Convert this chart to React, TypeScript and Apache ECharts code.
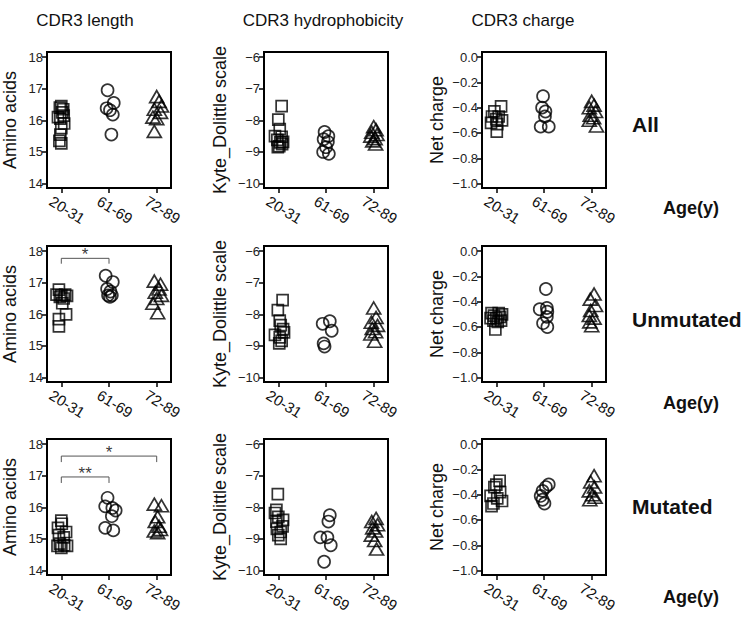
import React, { useEffect, useRef } from 'react';
import * as echarts from 'echarts';

const categories = ['20-31', '61-69', '72-89'];
const colTitles = ['CDR3 length', 'CDR3 hydrophobicity', 'CDR3 charge'];
const yNames = ['Amino acids', 'Kyte_Dolittle scale', 'Net charge'];
const rowLabels = ['All', 'Unmutated', 'Mutated'];
const ageLabel = 'Age(y)';
const yTicks = [
  [14, 15, 16, 17, 18],
  [-10, -9, -8, -7, -6],
  [-1, -0.8, -0.6, -0.4, -0.2, 0],
];
const yRanges = [
  [13.86, 18.16],
  [-10.14, -5.84],
  [-1.035, 0.04],
];

// points: [horizontal jitter from the group centre, value]
const lenAllA = [[0, 16.45], [-0.03, 16.4], [0.04, 16.35], [0.02, 16.25], [-0.07, 16.1], [0.05, 16.15], [-0.02, 16.05], [0.06, 15.9], [0, 15.75], [-0.02, 15.55], [-0.04, 15.35], [0, 15.27]];
const lenAllB = [[-0.03, 16.95], [0.1, 16.55], [-0.05, 16.38], [0.02, 16.32], [0.08, 16.18], [0.05, 15.55]];
const lenAllC = [[0, 16.75], [0.05, 16.6], [0.1, 16.45], [-0.05, 16.35], [0.08, 16.25], [-0.08, 16.1], [0, 16.05], [-0.05, 15.65]];
const hydAllA = [[0.07, -7.55], [0, -7.98], [0.03, -8.28], [-0.07, -8.5], [0.07, -8.52], [-0.02, -8.62], [0.1, -8.68], [0.02, -8.82], [-0.01, -8.85], [0.08, -8.75], [0.04, -8.7]];
const hydAllB = [[-0.03, -8.37], [0.05, -8.5], [-0.05, -8.6], [0.04, -8.68], [0, -8.85], [-0.06, -9.0], [0.06, -9.06]];
const hydAllC = [[0, -8.2], [0.05, -8.3], [-0.04, -8.38], [0.07, -8.45], [-0.06, -8.5], [0.03, -8.58], [-0.02, -8.65], [0.04, -8.75]];
const chgAllA = [[0.1, -0.39], [-0.04, -0.43], [-0.09, -0.47], [0.05, -0.47], [0, -0.49], [0.12, -0.5], [-0.11, -0.52], [0.02, -0.53], [0.01, -0.59]];
const chgAllB = [[-0.02, -0.31], [-0.04, -0.4], [0.03, -0.43], [0.02, -0.47], [-0.07, -0.55], [0.1, -0.55]];
const chgAllC = [[0, -0.35], [0.05, -0.38], [-0.05, -0.4], [0.08, -0.43], [-0.03, -0.46], [0.04, -0.48], [-0.05, -0.5], [0.1, -0.545]];

const lenUnA = [[-0.05, 16.78], [-0.1, 16.62], [0, 16.6], [0.08, 16.62], [0.12, 16.58], [-0.03, 16.55], [0.05, 16.5], [0.02, 16.35], [0.1, 16.0], [-0.05, 15.85], [-0.05, 15.62]];
const lenUnB = [[-0.07, 17.22], [0.08, 17.02], [-0.04, 16.8], [0.03, 16.72], [-0.02, 16.6], [0.06, 16.6], [0.02, 16.55]];
const lenUnC = [[-0.05, 17.05], [0.08, 16.95], [0.05, 16.8], [-0.03, 16.7], [0.1, 16.6], [0, 16.5], [-0.08, 16.35], [0.02, 16.05]];
const hydUnA = [[0.09, -7.55], [-0.01, -7.87], [0.03, -8.2], [0.05, -8.34], [0.1, -8.47], [0.12, -8.57], [-0.07, -8.65], [0.03, -8.73], [0.07, -8.84], [0.02, -8.92]];
const hydUnB = [[-0.07, -8.3], [0.08, -8.22], [0.12, -8.52], [-0.05, -8.92], [-0.03, -9.02]];
const hydUnC = [[0, -7.8], [0.05, -8.1], [-0.05, -8.25], [0.08, -8.35], [-0.03, -8.45], [0.04, -8.55], [-0.06, -8.62], [0.02, -8.85]];
const chgUnA = [[-0.1, -0.49], [0.05, -0.49], [0.12, -0.5], [-0.05, -0.51], [0.08, -0.52], [-0.12, -0.53], [0, -0.53], [0.1, -0.55], [-0.06, -0.55], [0.03, -0.56], [-0.02, -0.62]];
const chgUnB = [[0.04, -0.3], [-0.09, -0.46], [0.06, -0.45], [0.07, -0.48], [0.06, -0.52], [-0.02, -0.57], [0.07, -0.6]];
const chgUnC = [[0.05, -0.34], [-0.03, -0.38], [0.08, -0.43], [-0.02, -0.47], [-0.05, -0.51], [0.05, -0.53], [-0.04, -0.56], [0, -0.59]];

const lenMuA = [[0, 15.58], [0.01, 15.48], [-0.07, 15.35], [0.1, 15.22], [-0.05, 15.12], [0.05, 15.05], [-0.03, 14.85], [0.06, 14.8], [-0.08, 14.78], [0.12, 14.78], [0, 14.72]];
const lenMuB = [[-0.03, 16.3], [-0.08, 16.03], [0.07, 15.98], [0.14, 15.9], [0.06, 15.72], [-0.08, 15.35], [0.09, 15.27]];
const lenMuC = [[-0.05, 16.1], [0.1, 16.05], [0.02, 15.7], [-0.03, 15.55], [0.05, 15.4], [0.08, 15.3], [-0.05, 15.25], [0.02, 15.2]];
const hydMuA = [[-0.01, -7.58], [-0.04, -8.08], [-0.07, -8.18], [0, -8.3], [0.1, -8.4], [-0.04, -8.45], [0.09, -8.6], [-0.03, -8.68], [0.05, -8.78], [0, -8.88], [0.05, -9.0]];
const hydMuB = [[0.08, -8.25], [0.05, -8.45], [-0.12, -8.95], [0.03, -8.95], [0.1, -9.2], [-0.04, -9.72]];
const hydMuC = [[0.05, -8.35], [-0.04, -8.45], [0.08, -8.55], [-0.02, -8.65], [0.04, -8.75], [-0.05, -8.88], [0.02, -9.05], [0.06, -9.32]];
const chgMuA = [[0.07, -0.29], [0, -0.32], [-0.04, -0.34], [0.08, -0.38], [-0.12, -0.41], [0.02, -0.43], [0.12, -0.45], [-0.06, -0.47], [-0.1, -0.49]];
const chgMuB = [[0.1, -0.32], [0.04, -0.34], [-0.03, -0.37], [-0.07, -0.41], [-0.03, -0.44], [0.01, -0.47]];
const chgMuC = [[0.05, -0.25], [-0.02, -0.3], [0.06, -0.34], [-0.05, -0.37], [0.02, -0.4], [0.07, -0.42], [-0.04, -0.44]];

const panelData = [
  [[lenAllA, lenAllB, lenAllC], [hydAllA, hydAllB, hydAllC], [chgAllA, chgAllB, chgAllC]],
  [[lenUnA, lenUnB, lenUnC], [hydUnA, hydUnB, hydUnC], [chgUnA, chgUnB, chgUnC]],
  [[lenMuA, lenMuB, lenMuC], [hydMuA, hydMuB, hydMuC], [chgMuA, chgMuB, chgMuC]],
];

// significance brackets: row, from group, to group, bar level, foot level, mark
const bracketRow = [1, 2, 2];
const bracketFrom = [0, 0, 0];
const bracketTo = [1, 2, 1];
const bracketTop = [17.77, 17.62, 16.96];
const bracketFoot = [17.6, 17.43, 16.77];
const bracketMark = ['*', '*', '**'];

const FONT = "'Liberation Sans', Arial, Helvetica, sans-serif";
const gridLeft = [47, 264, 482];
const gridTop = [52, 246, 439];
const gridW = 124;
const gridH = 136;
const nameGaps = [28, 35, 36];
const symbols = ['rect', 'circle', 'triangle'];
const symbolSizes: any[] = [11, 12, [14, 12]];

function fmtY(col: number, v: number) {
  const s = col === 2 ? v.toFixed(1) : String(Math.round(v));
  return s.replace('-', '\u2212');
}

export default function App() {
  const ref = useRef<HTMLDivElement>(null);
  useEffect(() => {
    document.body.style.margin = '0';
    const chart = echarts.init(ref.current!, null, { renderer: 'svg' });
    const grids: any[] = [];
    const xAxes: any[] = [];
    const yAxes: any[] = [];
    const series: any[] = [];
    for (let r = 0; r < 3; r++) {
      for (let c = 0; c < 3; c++) {
        const idx = r * 3 + c;
        grids.push({
          left: gridLeft[c], top: gridTop[r], width: gridW, height: gridH,
          show: true, borderColor: '#000', borderWidth: 2, backgroundColor: 'transparent',
        });
        xAxes.push({
          type: 'value', gridIndex: idx, min: 0.7, max: 3.3,
          splitLine: { show: false },
          axisLine: { show: true, onZero: false, lineStyle: { color: '#000', width: 2 } },
          axisTick: { show: true, customValues: [1, 2, 3], length: 5, lineStyle: { color: '#000', width: 1.5 } },
          axisLabel: {
            customValues: [1, 2, 3],
            formatter: (v: number) => categories[Math.round(v) - 1],
            rotate: -32, align: 'center', verticalAlign: 'middle', margin: 18,
            padding: [0, 0, 0, 14],
            fontFamily: FONT, fontSize: 15, color: '#111',
          },
        });
        yAxes.push({
          type: 'value', gridIndex: idx, min: yRanges[c][0], max: yRanges[c][1],
          splitLine: { show: false },
          axisLine: { show: true, onZero: false, lineStyle: { color: '#000', width: 2 } },
          axisTick: { show: true, customValues: yTicks[c], length: 5, lineStyle: { color: '#000', width: 1.5 } },
          axisLabel: {
            customValues: yTicks[c],
            formatter: (v: number) => fmtY(c, v),
            margin: 4, fontFamily: FONT, fontSize: 13, color: '#222',
          },
          name: yNames[c], nameLocation: 'middle', nameGap: nameGaps[c],
          nameTextStyle: { fontFamily: FONT, fontSize: 18, color: '#111' },
        });
        for (let g = 0; g < 3; g++) {
          series.push({
            type: 'scatter', xAxisIndex: idx, yAxisIndex: idx,
            symbol: symbols[g], symbolSize: symbolSizes[g],
            itemStyle: { color: 'rgba(0,0,0,0)', borderColor: '#000', borderWidth: 1.7 },
            data: panelData[r][c][g].map((p) => [g + 1 + p[0], p[1]]),
            silent: true,
          });
        }
      }
    }
    for (let b = 0; b < bracketRow.length; b++) {
      const idx = bracketRow[b] * 3;
      const x1 = bracketFrom[b] + 1;
      const x2 = bracketTo[b] + 1;
      series.push({
        type: 'line', xAxisIndex: idx, yAxisIndex: idx, symbol: 'none', silent: true,
        lineStyle: { color: '#555', width: 1 },
        data: [[x1, bracketFoot[b]], [x1, bracketTop[b]], [x2, bracketTop[b]], [x2, bracketFoot[b]]],
      });
      series.push({
        type: 'scatter', xAxisIndex: idx, yAxisIndex: idx, symbolSize: 0, silent: true,
        data: [[(x1 + x2) / 2, bracketTop[b]]],
        label: {
          show: true, position: 'top', distance: -5, formatter: bracketMark[b],
          fontFamily: FONT, fontSize: 17, color: '#000',
        },
      });
    }
    const titleCenters = [80, 318, 518];
    const titles = colTitles.map((t, i) => ({
      text: t, left: titleCenters[i], top: 7, textAlign: 'center',
      textStyle: { fontFamily: FONT, fontSize: 17, fontWeight: 'normal', color: '#111' },
    }));
    const graphics: any[] = [];
    const rowLabelY = [124, 319, 506];
    const ageY = [208, 403, 597];
    for (let r = 0; r < 3; r++) {
      graphics.push({
        type: 'text', x: 632, y: rowLabelY[r],
        style: { text: rowLabels[r], font: `bold 21px ${FONT}`, fill: '#111', verticalAlign: 'middle', align: 'left' },
      });
      graphics.push({
        type: 'text', x: 663, y: ageY[r],
        style: { text: ageLabel, font: `bold 18px ${FONT}`, fill: '#111', verticalAlign: 'middle', align: 'left' },
      });
    }
    chart.setOption({
      animation: false,
      backgroundColor: '#fff',
      title: titles,
      grid: grids,
      xAxis: xAxes,
      yAxis: yAxes,
      series,
      graphic: graphics,
    });
    return () => chart.dispose();
  }, []);
  return <div ref={ref} style={{ width: 750, height: 618 }} />;
}
